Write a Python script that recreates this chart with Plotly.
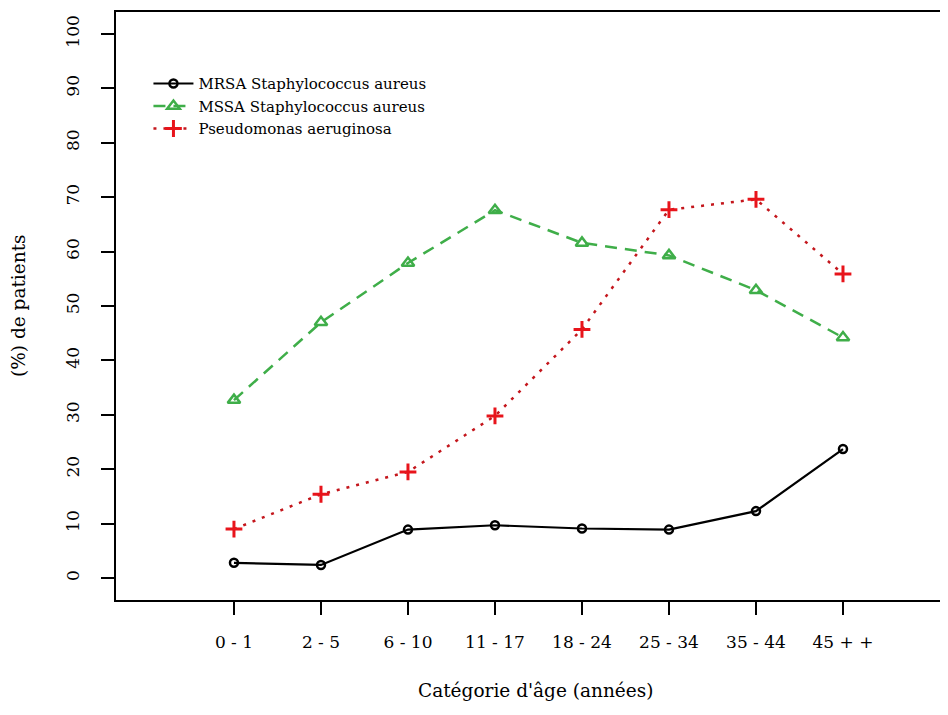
import plotly.graph_objects as go

categories = ["0 - 1", "2 - 5", "6 - 10", "11 - 17", "18 - 24", "25 - 34", "35 - 44", "45 + +"]
mrsa = [2.8, 2.4, 8.9, 9.7, 9.1, 8.9, 12.3, 23.7]
mssa = [32.7, 47.0, 57.9, 67.6, 61.6, 59.3, 52.9, 44.2]
pseudo = [9.0, 15.4, 19.5, 29.8, 45.7, 67.7, 69.6, 55.9]
yticks = [0, 10, 20, 30, 40, 50, 60, 70, 80, 90, 100]

xpos = list(range(1, len(categories) + 1))
FONT = "DejaVu Serif, serif"

W, H = 940, 707
L, R, T, B = 108, 0, 4, 115
plot_w = W - L - R
plot_h = H - T - B

fig = go.Figure()
fig.add_trace(go.Scatter(x=xpos, y=mrsa, name="MRSA Staphylococcus aureus",
                         mode="lines+markers",
                         line=dict(color="black", width=2.2),
                         marker=dict(symbol="circle-open", size=8, color="black",
                                     line=dict(width=2.5, color="black"))))
fig.add_trace(go.Scatter(x=xpos, y=mssa, name="MSSA Staphylococcus aureus",
                         mode="lines+markers",
                         line=dict(color="#3fae49", width=2.5, dash="12px,8px"),
                         marker=dict(symbol="triangle-up-open", size=11, color="#3fae49",
                                     line=dict(width=2.5, color="#3fae49"))))
fig.add_trace(go.Scatter(x=xpos, y=pseudo, name="Pseudomonas aeruginosa",
                         mode="lines+markers",
                         line=dict(color="#c4161c", width=2.5, dash="3px,7px"),
                         marker=dict(symbol="cross-thin-open", size=12, color="#e8141b",
                                     line=dict(width=3, color="#e8141b"))))

fig.update_layout(
    width=W, height=H,
    margin=dict(l=L, r=R, t=T, b=B),
    paper_bgcolor="white", plot_bgcolor="white",
    font=dict(family=FONT, size=16, color="black"),
    showlegend=True,
    legend=dict(x=0.039, y=0.906, xanchor="left", yanchor="top",
                bgcolor="rgba(0,0,0,0)", font=dict(family=FONT, size=15),
                itemwidth=40, tracegroupgap=0),
    xaxis=dict(range=[-0.356, 9.207], tickvals=xpos, ticktext=categories,
               showgrid=False, zeroline=False, showline=True, linecolor="black",
               linewidth=2, mirror=True, ticks="outside", ticklen=13, tickwidth=2,
               tickcolor="black", ticklabelstandoff=13,
               tickfont=dict(family=FONT, size=17)),
    yaxis=dict(range=[-4.04, 104.04], tickvals=yticks, ticktext=[str(v) for v in yticks],
               showgrid=False, zeroline=False, showline=True, linecolor="black",
               linewidth=2, mirror=False, ticks="outside", ticklen=13, tickwidth=2,
               tickcolor="black", tickangle=-90, ticklabelstandoff=15,
               tickfont=dict(family=FONT, size=17)),
)
fig.add_annotation(text="Catégorie d'âge (années)", xref="paper", yref="paper",
                   x=(527 - L) / plot_w, y=-90 / plot_h, showarrow=False,
                   font=dict(family=FONT, size=18.5), xanchor="center", yanchor="middle")
fig.add_annotation(text="(%) de patients", xref="paper", yref="y",
                   x=(10 - L) / plot_w, y=50, textangle=-90, showarrow=False,
                   font=dict(family=FONT, size=18.5), xanchor="center", yanchor="middle")

fig.write_html("out.html")
